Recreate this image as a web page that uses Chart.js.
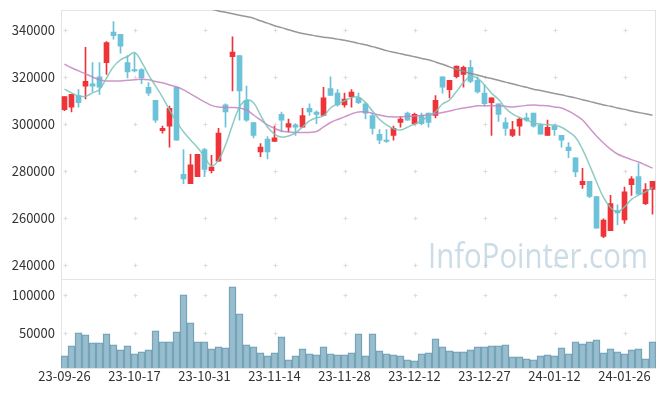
<!DOCTYPE html>
<html>
<head>
<meta charset="utf-8">
<script src="https://cdn.jsdelivr.net/npm/chart.js@4.4.1/dist/chart.umd.min.js"></script>
<style>
  html, body { margin: 0; padding: 0; background: #fff; }
  #wrap { width: 665px; height: 396px; }
</style>
</head>
<body>
<div id="wrap"><canvas id="chart" width="665" height="396"></canvas></div>
<script>
// 일봉 데이터 (23-09-26 ~ 24-02-01)
const labels = [
  '23-09-26','23-09-27','23-10-04','23-10-05','23-10-06','23-10-10','23-10-11','23-10-12','23-10-13','23-10-16',
  '23-10-17','23-10-18','23-10-19','23-10-20','23-10-23','23-10-24','23-10-25','23-10-26','23-10-27','23-10-30',
  '23-10-31','23-11-01','23-11-02','23-11-03','23-11-06','23-11-07','23-11-08','23-11-09','23-11-10','23-11-13',
  '23-11-14','23-11-15','23-11-16','23-11-17','23-11-20','23-11-21','23-11-22','23-11-23','23-11-24','23-11-27',
  '23-11-28','23-11-29','23-11-30','23-12-01','23-12-04','23-12-05','23-12-06','23-12-07','23-12-08','23-12-11',
  '23-12-12','23-12-13','23-12-14','23-12-15','23-12-18','23-12-19','23-12-20','23-12-21','23-12-22','23-12-26',
  '23-12-27','23-12-28','24-01-02','24-01-03','24-01-04','24-01-05','24-01-08','24-01-09','24-01-10','24-01-11',
  '24-01-12','24-01-15','24-01-16','24-01-17','24-01-18','24-01-19','24-01-22','24-01-23','24-01-24','24-01-25',
  '24-01-26','24-01-29','24-01-30','24-01-31','24-02-01'
];

const opens = [
  306000,307000,312000,316000,317000,320000,326000,339000,338000,326000,
  323000,323000,315500,310000,297000,299000,315500,278500,274500,277500,
  289000,280000,284000,308000,328500,329000,310000,300500,288000,293500,
  292500,304000,298500,299500,298500,306500,305000,303500,315000,313000,
  308000,311500,311000,308500,303500,295500,293000,295000,300500,304500,
  300000,303500,304500,303500,320000,314500,320000,321000,324000,318500,
  313000,309000,308500,300500,295000,299000,302500,304500,299500,295000,
  299000,295000,290000,285500,274000,275500,269000,252000,254500,263000,
  259000,274000,277500,266000,272000
];
const highs = [
  311500,312500,314500,332500,326000,326000,335000,343500,338000,329000,
  330000,323500,317500,310000,299000,307500,315500,289000,287000,287000,
  289500,286500,298000,308500,337000,329000,316000,300500,291500,294500,
  299000,305000,302000,300000,306500,308500,305500,315500,320000,314500,
  313000,314500,313000,309000,304500,297500,297500,299000,303000,305000,
  304500,304500,304500,312000,320000,318500,324500,324500,327000,320000,
  316500,311000,308500,302500,301000,302500,304500,304500,300000,301500,
  299500,295000,292000,285500,281000,275500,269000,259500,269500,265500,
  273000,277500,283000,274500,275500
];
const lows = [
  305500,305000,307000,310500,313500,312500,321000,336000,330000,319500,
  322000,317000,312000,300500,296000,290000,293000,274500,274500,277500,
  277500,279000,284000,298500,314000,301500,301000,294000,286000,285000,
  292500,296500,296500,295000,298500,303500,300000,303500,312000,307500,
  307000,307000,308500,302000,295500,291500,292000,293000,298500,301500,
  299500,299500,298500,302500,313000,311000,319500,315500,317500,313000,
  307500,295000,301000,295000,294500,295000,301000,298500,295500,295000,
  295000,290000,285500,277500,272500,268500,255500,251500,254500,257000,
  257500,269500,270000,265500,261500
];
const closes = [
  311500,312500,309000,318000,316000,315500,334500,337500,333000,322000,
  322500,319500,313000,301500,298000,306500,293000,276500,282500,287000,
  280500,281500,296000,305000,330500,314000,301500,295000,290000,288000,
  294000,301500,300000,298500,303500,305000,304000,311000,312000,308000,
  310500,313500,309000,304500,298000,293000,292500,298000,302000,301500,
  304000,300000,300500,310000,315500,318500,324500,324000,318000,313500,
  308500,311000,304000,298000,297500,302000,301500,299000,295500,298500,
  297500,293000,288500,279500,275500,269000,255500,259000,266000,262000,
  271000,276500,270000,272000,275500
];
const volumes = [
  19700,32900,50000,47400,36800,36800,48700,34200,27600,32900,
  22400,25000,27600,52600,38200,38200,51300,100000,63200,38200,
  38200,28900,31600,30300,110500,75000,34200,31600,23700,19700,
  23700,44700,14500,19700,28900,22400,21100,31600,22400,21100,
  21100,23700,48700,19700,48700,26300,22400,21100,19700,14500,
  13200,22400,23700,42100,31600,26300,25000,25000,27600,31600,
  31600,32900,32900,34200,18400,18400,15800,14500,19700,21100,
  19700,30300,22400,38200,35500,38200,40800,23700,28900,25000,
  22400,27600,28900,15800,38200
];
// 이동평균선
const ma5 = [
  314700,313100,311800,311700,313100,314600,319400,324300,327200,328600,
  330300,326300,320800,316100,311300,305900,300900,296600,293100,289900,
  285900,282000,284500,290900,299500,307100,310100,308900,303700,298600,
  295600,294300,294800,296100,298600,301200,302500,303300,306700,308400,
  309700,311100,311300,309000,305400,301900,299500,297900,297300,298500,
  299900,301200,303300,305100,308400,310100,313700,317500,320100,319400,
  316500,313000,310400,306600,304200,302700,301600,300400,299800,299600,
  299300,298500,296600,294200,289100,282400,275300,268600,264300,262500,
  264600,267800,269600,271000,272900
];
const ma20 = [
  325300,323800,322500,321200,319900,318700,318200,318200,318200,318500,
  318700,318900,318700,318000,317400,316500,315700,314400,312700,311000,
  309300,307800,307100,306900,306900,306700,305900,303700,301600,299500,
  298000,296900,296500,296300,296300,296300,296700,298600,300500,301800,
  302900,304200,305000,305000,304400,303700,303100,302900,302900,303100,
  303300,303500,303700,304200,304800,305400,306100,306700,307100,307600,
  307600,307600,307600,307400,307100,307400,307800,308000,307800,307600,
  307100,306700,305400,303700,301600,298200,294800,291800,289200,287100,
  285800,284700,283700,282400,281100
];
const ma60 = [
  null,null,null,null,null,null,null,null,null,null,
  null,null,null,null,null,null,null,null,null,349900,
  349300,348700,348000,347400,346800,346200,345600,344900,343800,342800,
  341700,340900,340000,339100,338400,337900,337300,336800,336500,336000,
  335500,334900,334200,333600,332800,332000,331100,330400,329800,329100,
  328500,327800,327200,326300,325300,324200,323200,322300,321400,320700,
  319900,319200,318500,317700,317000,316200,315500,314700,314100,313500,
  312900,312300,311600,311000,310200,309500,308700,308000,307400,306700,
  306100,305400,304800,304200,303600
];

const priceTicks = [240000, 260000, 280000, 300000, 320000, 340000];
const volumeTicks = [50000, 100000];
const priceMin = 234000, priceMax = 348400;
const volumeMin = 3700, volumeMax = 121000;

const upColor = '#ee3439';
const downColor = '#6cc2d8';
const candleColors = closes.map((c, i) => c >= opens[i] ? upColor : downColor);

// 격자 대신 + 표시, 테두리, 워터마크
const decor = {
  id: 'decor',
  beforeDatasetsDraw(chart) {
    const ctx = chart.ctx;
    const x = chart.scales.x, yp = chart.scales.y, yv = chart.scales.yv;
    ctx.save();
    ctx.strokeStyle = '#e4e4e4';
    ctx.lineWidth = 1;
    [yp, yv].forEach(s => {
      ctx.strokeRect(Math.round(x.left) + 0.5, Math.round(s.top) + 0.5,
        Math.round(x.right - x.left) - 1, Math.round(s.bottom - s.top));
    });
    ctx.strokeStyle = '#dcdcdc';
    const xs = labels.map((l, i) => i).filter(i => i % 10 === 0).map(i => Math.round(x.getPixelForValue(i)) + 0.5);
    const rows = priceTicks.map(v => yp.getPixelForValue(v)).concat(volumeTicks.map(v => yv.getPixelForValue(v)));
    rows.forEach(py => {
      py = Math.round(py) + 0.5;
      xs.forEach(px => {
        ctx.beginPath();
        ctx.moveTo(px - 2, py); ctx.lineTo(px + 2, py);
        ctx.moveTo(px, py - 2); ctx.lineTo(px, py + 2);
        ctx.stroke();
      });
    });
    // 워터마크
    ctx.font = '34px "Open Sans"';
    ctx.fillStyle = 'rgba(183, 206, 220, 0.72)';
    ctx.textAlign = 'right';
    ctx.textBaseline = 'alphabetic';
    const tx = x.right - 8, ty = yp.bottom - 11;
    const w = ctx.measureText('InfoPointer.com').width;
    ctx.translate(tx, ty);
    ctx.scale(220 / w, 1);
    ctx.fillText('InfoPointer.com', 0, 0);
    ctx.restore();
  }
};

Chart.defaults.font.family = "'Noto Sans CJK KR', 'Noto Sans', sans-serif";
Chart.defaults.font.size = 13;
Chart.defaults.color = '#333';

const ctx = document.getElementById('chart').getContext('2d');
const myChart = new Chart(ctx, {
  data: {
    labels: labels,
    datasets: [
      {
        type: 'line', label: 'MA5', data: ma5, yAxisID: 'y',
        borderColor: 'rgba(120,195,185,0.85)', borderWidth: 1.5, pointRadius: 0, tension: 0.4, order: 0
      },
      {
        type: 'line', label: 'MA20', data: ma20, yAxisID: 'y',
        borderColor: 'rgba(196,130,192,0.85)', borderWidth: 1.5, pointRadius: 0, tension: 0.4, order: 0
      },
      {
        type: 'line', label: 'MA60', data: ma60, yAxisID: 'y',
        borderColor: 'rgba(140,140,140,0.9)', borderWidth: 1.5, pointRadius: 0, tension: 0.4, order: 0
      },
      {
        type: 'bar', label: 'wick', yAxisID: 'y', grouped: false, order: 2,
        data: lows.map((l, i) => [l, highs[i]]),
        backgroundColor: candleColors, barThickness: 1, minBarLength: 1
      },
      {
        type: 'bar', label: 'body', yAxisID: 'y', grouped: false, order: 1,
        data: opens.map((o, i) => [o, closes[i]]),
        backgroundColor: candleColors, barThickness: 5, minBarLength: 1
      },
      {
        type: 'bar', label: 'volume', yAxisID: 'yv', grouped: false, order: 3,
        data: volumes, base: volumeMin,
        backgroundColor: 'rgba(140,182,201,0.9)', borderColor: '#6d9db3', borderWidth: 1,
        barPercentage: 1, categoryPercentage: 1
      }
    ]
  },
  options: {
    responsive: false,
    animation: false,
    layout: { padding: { top: 10, right: 9, left: 0, bottom: 0 } },
    plugins: { legend: { display: false }, tooltip: { enabled: false } },
    scales: {
      x: {
        type: 'category',
        offset: true,
        grid: { display: false, drawTicks: false },
        border: { display: false },
        ticks: {
          autoSkip: false, maxRotation: 0, padding: 0,
          callback: function (v, i) { return i % 10 === 0 ? labels[i] : ''; }
        },
        afterFit: s => { s.height = 28; }
      },
      y: {
        position: 'left', stack: 'panes', stackWeight: 268, weight: 2,
        min: priceMin, max: priceMax,
        grid: { display: false, drawTicks: false },
        border: { display: false },
        ticks: { padding: 6, callback: v => String(v) },
        afterBuildTicks: s => { s.ticks = priceTicks.map(v => ({ value: v })); },
        afterFit: s => { s.width = 61; s.paddingTop = 0; s.paddingBottom = 0; }
      },
      yv: {
        position: 'left', stack: 'panes', stackWeight: 89, weight: 1,
        min: volumeMin, max: volumeMax,
        grid: { display: false, drawTicks: false },
        border: { display: false },
        ticks: { padding: 6, callback: v => String(v) },
        afterBuildTicks: s => { s.ticks = volumeTicks.map(v => ({ value: v })); },
        afterFit: s => { s.width = 61; s.paddingTop = 0; s.paddingBottom = 0; }
      }
    }
  },
  plugins: [decor]
});
</script>
</body>
</html>
